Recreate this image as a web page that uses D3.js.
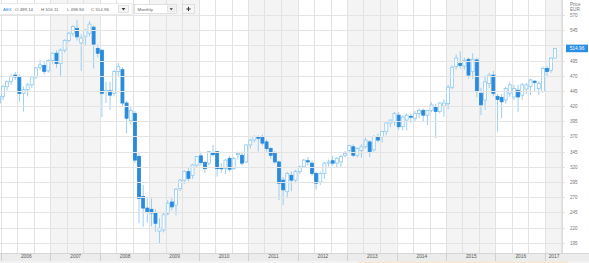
<!DOCTYPE html>
<html>
<head>
<meta charset="utf-8">
<script src="https://cdnjs.cloudflare.com/ajax/libs/d3/7.8.5/d3.min.js"></script>
<style>
  html, body { margin: 0; padding: 0; background: #fff; }
  svg { display: block; font-family: "Liberation Sans", Arial, sans-serif; }
</style>
</head>
<body>
<div id="chart"></div>
<script>
// ========== Data (monthly AEX, Dec 2005 - Mar 2017) ==========
const firstMonth = "2005-12";
const opens = [425,
  436,452,460,471,467,441,447,455,468,484,487,478,
  495,507,490,512,528,540,548,524,535,540,550,515,
  512,444,445,441,477,480,425,396,408,337,271,252,
  250,244,214,216,243,262,257,284,298,312,306,323,
  338,327,326,343,345,318,317,334,317,340,339,328,
  356,364,369,370,361,350,342,328,298,279,306,298,
  312,320,330,326,309,295,309,326,330,326,328,339,
  347,353,339,347,353,361,348,370,370,378,392,394,
  405,386,397,403,400,408,413,405,413,419,411,420,
  424,451,485,490,486,497,477,496,441,430,457,471,
  436,434,430,441,435,446,438,448,452,461,449,444,
  482,479,499.14];
const highs = [438,
  455,462,472,476,472,452,458,470,484,496,492,497,
  508,512,515,530,542,553,562,538,547,560,553,522,
  514,460,460,480,491,484,428,418,412,342,290,268,
  268,250,235,244,265,268,285,300,314,318,325,338,
  345,330,346,356,346,326,333,338,336,345,345,357,
  366,372,372,373,365,352,346,330,303,312,312,315,
  322,333,336,330,312,312,328,332,338,336,340,346,
  356,357,352,357,368,364,372,375,378,393,398,410,
  410,405,408,408,412,416,416,414,426,424,427,431,
  455,487,505,510,500,500,507,500,450,470,475,478,
  440,440,452,460,455,455,458,458,465,463,461,485,
  486,500,516.11];
const lows = [419,
  430,446,455,463,427,411,436,450,465,480,472,475,
  490,483,470,508,525,535,528,478,520,535,482,500,
  402,425,414,436,470,420,375,390,326,227,221,228,
  222,213,194,212,240,248,240,280,292,296,300,318,
  322,310,322,337,304,310,308,312,315,332,322,326,
  350,360,345,355,345,333,325,265,257,270,280,293,
  308,318,322,305,282,290,300,320,322,318,320,336,
  345,336,335,335,350,336,345,360,360,372,385,388,
  380,380,380,392,395,400,395,389,410,367,408,402,
  415,448,480,482,480,465,465,435,405,414,450,436,
  378,400,424,435,430,410,430,440,438,444,438,442,
  470,475,498.94];
const closes = [436,
  452,460,469,468,441,447,455,468,483,488,477,495,
  507,490,512,528,540,551,534,532,545,555,522,507,
  441,446,438,477,485,425,400,413,331,268,252,246,
  244,227,219,241,260,254,283,298,312,301,323,337,
  327,317,345,340,317,317,331,316,334,342,326,356,
  364,370,367,359,350,339,328,293,282,309,298,312,
  320,331,328,309,293,309,326,328,326,334,337,342,
  355,339,350,353,364,345,370,364,378,392,397,408,
  386,402,405,402,408,413,405,413,422,411,425,425,
  451,484,499,487,495,471,497,444,422,460,471,441,
  431,427,449,455,449,435,455,455,463,459,457,482,
  477,499,514.96];

const years = [2006, 2007, 2008, 2009, 2010, 2011, 2012, 2013, 2014, 2015, 2016, 2017];
const priceTicks = [195, 220, 245, 270, 295, 320, 345, 370, 395, 420, 445, 470, 495, 520, 545, 570];
const header = { symbol: "AEX", o: "499.14", h: "516.11", l: "498.94", c: "514.96", period: "Monthly" };

// ========== Layout ==========
const width = 589, height = 263;
const plotRight = 562, plotBottom = 253;

const parseMonth = d3.timeParse("%Y-%m");
const start = parseMonth(firstMonth);
const data = opens.map((o, i) => {
    const m = d3.timeMonth.offset(start, i);
    return { date: m, next: d3.timeMonth.offset(m, 1), open: o, high: highs[i], low: lows[i], close: closes[i] };
});

const x = d3.scaleTime()
    .domain([new Date(2006, 0, 1), new Date(2017, 0, 1)])
    .range([1, 545]);
const y = d3.scaleLinear()
    .domain([195, 570])
    .range([242.7, 15]);

const lastClose = closes[closes.length - 1];

const svg = d3.select("#chart").append("svg")
    .attr("width", width)
    .attr("height", height);

svg.append("rect").attr("width", width).attr("height", height).attr("fill", "#fff");

svg.append("clipPath").attr("id", "plot-clip")
    .append("rect").attr("x", 0).attr("y", 0).attr("width", plotRight).attr("height", plotBottom);

const plot = svg.append("g").attr("clip-path", "url(#plot-clip)");

// Alternating year bands
plot.selectAll(".band")
    .data(years.filter(yr => yr % 2 === 1))
    .enter().append("rect")
    .attr("x", d => x(new Date(d, 0, 1)))
    .attr("width", d => x(new Date(d + 1, 0, 1)) - x(new Date(d, 0, 1)))
    .attr("y", 0)
    .attr("height", plotBottom)
    .attr("fill", "#f4f4f4");

// Vertical grid every 4 months
const vTicks = d3.timeMonth.every(4).range(new Date(2005, 8, 1), new Date(2017, 6, 1));
plot.selectAll(".vgrid")
    .data(vTicks)
    .enter().append("line")
    .attr("x1", d => Math.round(x(d)) + 0.5)
    .attr("x2", d => Math.round(x(d)) + 0.5)
    .attr("y1", 0)
    .attr("y2", plotBottom)
    .attr("stroke", "#e2e2e2")
    .attr("stroke-width", 1);

// Horizontal grid
svg.selectAll(".hgrid")
    .data(priceTicks)
    .enter().append("line")
    .attr("x1", 0)
    .attr("x2", plotRight + 3)
    .attr("y1", d => Math.round(y(d)) + 0.5)
    .attr("y2", d => Math.round(y(d)) + 0.5)
    .attr("stroke", "#e4e4e4");

// Candles
const mid = d => x(new Date((d.date.getTime() + d.next.getTime()) / 2));
const candleW = 3;
const upColor = "#8fc9ef", downColor = "#2a8bdc";

const candle = plot.selectAll(".candle")
    .data(data)
    .enter().append("g")
    .attr("class", "candle");

candle.append("line")
    .attr("x1", d => mid(d))
    .attr("x2", d => mid(d))
    .attr("y1", d => y(d.high))
    .attr("y2", d => y(d.low))
    .attr("stroke", upColor)
    .attr("stroke-width", 0.9);

candle.append("rect")
    .attr("x", d => mid(d) - candleW / 2)
    .attr("width", candleW)
    .attr("y", d => y(Math.max(d.open, d.close)))
    .attr("height", d => Math.max(0.8, Math.abs(y(d.open) - y(d.close))))
    .attr("fill", d => d.close >= d.open ? "#fff" : downColor)
    .attr("stroke", d => d.close >= d.open ? upColor : downColor)
    .attr("stroke-width", 0.8);

// Price axis (right)
svg.append("line")
    .attr("x1", plotRight + 0.5).attr("x2", plotRight + 0.5)
    .attr("y1", 0).attr("y2", plotBottom)
    .attr("stroke", "#dcdcdc");

// the 520 label sits behind the last-price tag in the original
const yAxis = svg.append("g")
    .attr("transform", `translate(${plotRight},0)`)
    .call(d3.axisRight(y).tickValues(priceTicks.filter(p => Math.abs(p - lastClose) > 8))
        .tickSize(0).tickPadding(8));
yAxis.select(".domain").remove();
yAxis.selectAll("text")
    .attr("font-size", "4.6px")
    .attr("fill", "#777")
    .attr("font-family", "Liberation Sans, Arial, sans-serif");

svg.append("text").attr("x", plotRight + 8).attr("y", 5.5)
    .attr("font-size", "4.6px").attr("fill", "#777").text("Price");
svg.append("text").attr("x", plotRight + 8).attr("y", 11)
    .attr("font-size", "4.6px").attr("fill", "#777").text("EUR");

// Last price tag
svg.append("rect")
    .attr("x", plotRight + 4)
    .attr("y", y(lastClose) - 3.8)
    .attr("width", 22)
    .attr("height", 7.6)
    .attr("fill", "#2a8ee2");
svg.append("text")
    .attr("x", plotRight + 15)
    .attr("y", y(lastClose) + 1.6)
    .attr("text-anchor", "middle")
    .attr("font-size", "4.8px")
    .attr("fill", "#fff")
    .text(lastClose.toFixed(2));

// Bottom year axis band
svg.append("rect")
    .attr("x", 0).attr("y", plotBottom)
    .attr("width", width).attr("height", 8)
    .attr("fill", "#ececec");
svg.append("line")
    .attr("x1", 0).attr("x2", width)
    .attr("y1", plotBottom + 0.5).attr("y2", plotBottom + 0.5)
    .attr("stroke", "#d6d6d6");

const yearMid = yr => {
    const a = Math.max(0, x(new Date(yr, 0, 1)));
    const b = Math.min(plotRight, x(new Date(yr + 1, 0, 1)));
    return x.invert((a + b) / 2);
};
const xAxis = svg.append("g")
    .attr("transform", `translate(0,${plotBottom})`)
    .call(d3.axisBottom(x).tickValues(years.map(yearMid)).tickSize(0).tickPadding(2)
        .tickFormat(d3.timeFormat("%Y")));
xAxis.select(".domain").remove();
xAxis.selectAll("text")
    .attr("font-size", "4.8px")
    .attr("fill", "#555")
    .attr("font-family", "Liberation Sans, Arial, sans-serif");

svg.selectAll(".ysep")
    .data(years)
    .enter().append("line")
    .attr("x1", d => Math.round(x(new Date(d, 0, 1))) + 0.5)
    .attr("x2", d => Math.round(x(new Date(d, 0, 1))) + 0.5)
    .attr("y1", plotBottom)
    .attr("y2", plotBottom + 8)
    .attr("stroke", "#d0d0d0");

// Navigator strip at the very bottom
svg.append("rect")
    .attr("x", 0).attr("y", plotBottom + 8)
    .attr("width", width).attr("height", 2)
    .attr("fill", "#f2f2f2");
svg.append("rect")
    .attr("x", 357).attr("y", plotBottom + 8.5)
    .attr("width", 211).attr("height", 1.5)
    .attr("fill", "#f7e6cf");

// ========== Header ==========
const head = svg.append("g");
head.append("rect")
    .attr("x", -1).attr("y", 3.5).attr("width", 133).attr("height", 11)
    .attr("fill", "#fff").attr("stroke", "#dcdcdc").attr("stroke-width", 0.6);

head.append("text").attr("x", 3).attr("y", 10.6)
    .attr("font-size", "4.4px").attr("fill", "#2a8ee2").text(header.symbol);
const ohlc = [["O", header.o, 15], ["H", header.h, 41], ["L", header.l, 67], ["C", header.c, 91]];
head.selectAll(".ohlc")
    .data(ohlc)
    .enter().append("text")
    .attr("x", d => d[2])
    .attr("y", 10.6)
    .attr("font-size", "4.4px")
    .attr("fill", "#666")
    .text(d => `${d[0]} ${d[1]}`);

// small dropdown box
head.append("rect")
    .attr("x", 118.5).attr("y", 5.5).attr("width", 10).attr("height", 7)
    .attr("fill", "#f6f6f6").attr("stroke", "#cfcfcf").attr("stroke-width", 0.6);
head.append("path")
    .attr("d", "M121.6,8 L125.4,8 L123.5,10.4 Z")
    .attr("fill", "#333");

// period dropdown
head.append("rect")
    .attr("x", 134.5).attr("y", 4.5).attr("width", 42).attr("height", 9)
    .attr("fill", "#fff").attr("stroke", "#cfcfcf").attr("stroke-width", 0.6);
head.append("text").attr("x", 137.5).attr("y", 10.6)
    .attr("font-size", "4.4px").attr("fill", "#666").text(header.period);
head.append("rect")
    .attr("x", 167.5).attr("y", 6).attr("width", 7.5).attr("height", 6)
    .attr("fill", "#f3f3f3").attr("stroke", "#cfcfcf").attr("stroke-width", 0.5);
head.append("path")
    .attr("d", "M169.6,8.2 L172.9,8.2 L171.25,10.2 Z")
    .attr("fill", "#333");

// plus button
head.append("rect")
    .attr("x", 182.5).attr("y", 4.5).attr("width", 12).attr("height", 9)
    .attr("fill", "#f6f6f6").attr("stroke", "#cfcfcf").attr("stroke-width", 0.6);
head.append("path")
    .attr("d", "M186.3,9 L190.7,9 M188.5,6.8 L188.5,11.2")
    .attr("stroke", "#333").attr("stroke-width", 1);
</script>
</body>
</html>
